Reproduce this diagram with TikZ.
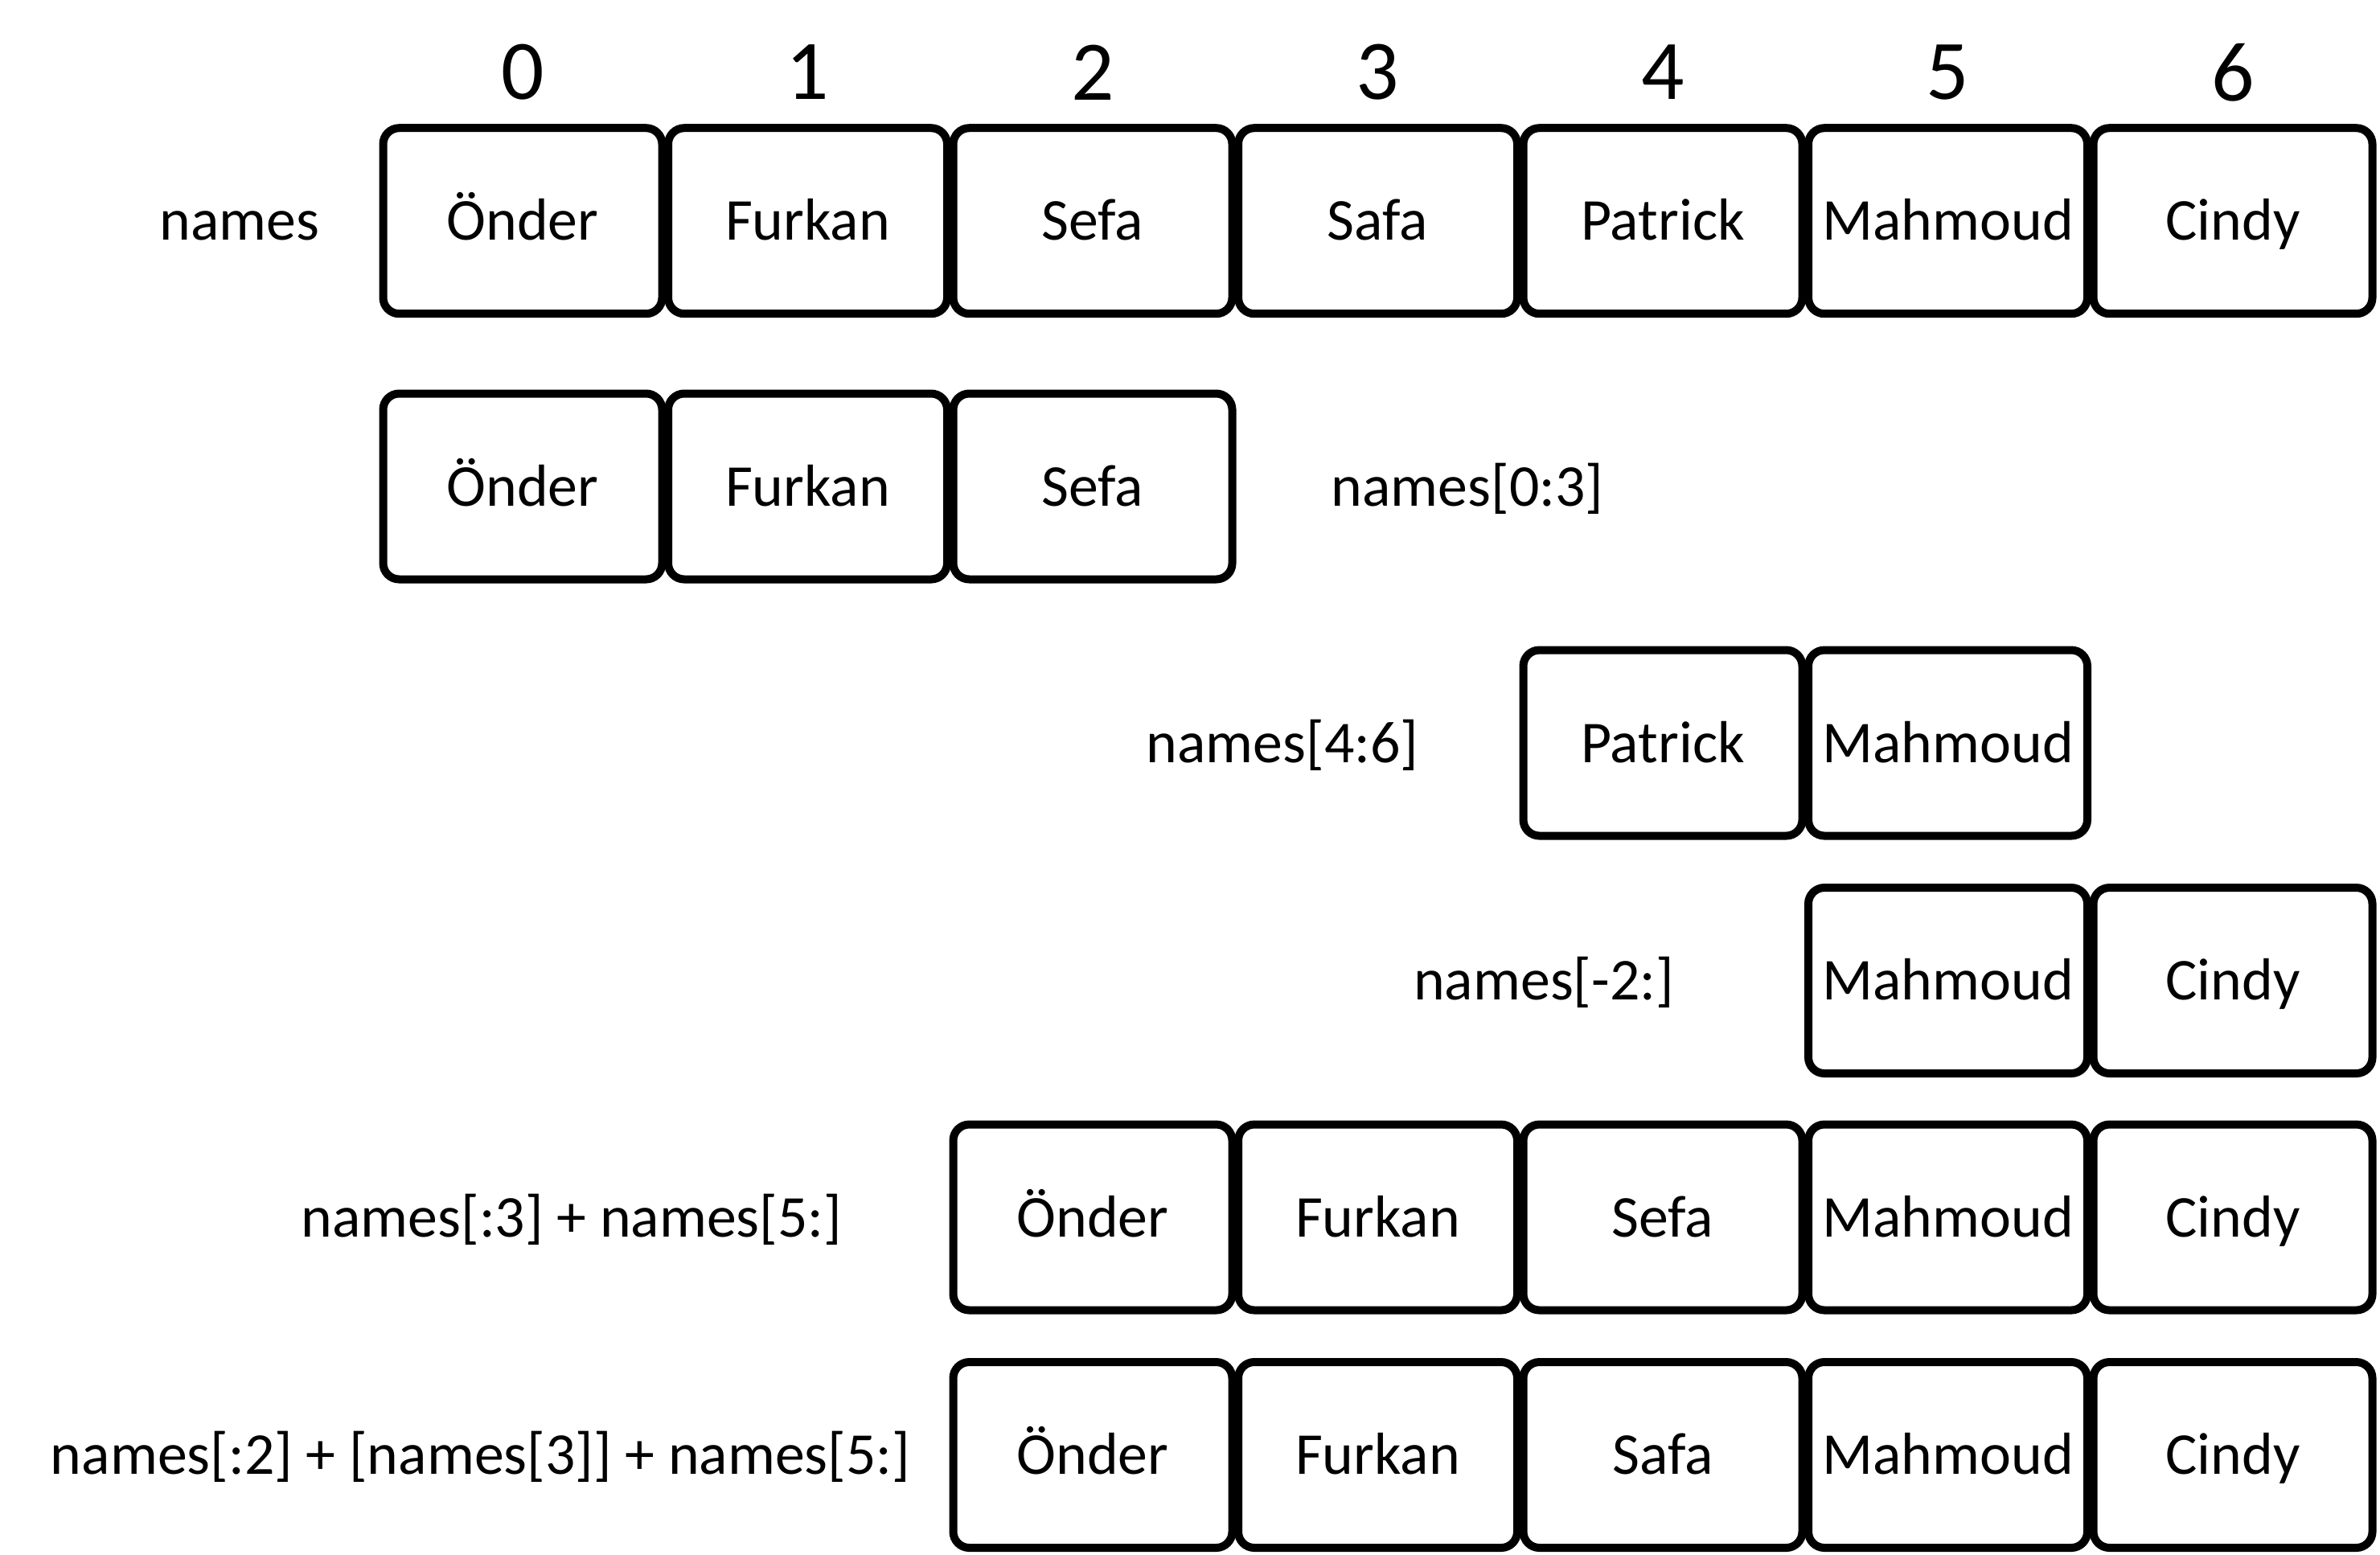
\documentclass[tikz,border=0pt]{standalone}
\usepackage{fontspec}
\setmainfont{Carlito}
\usepackage{tikz}

\begin{document}
\begin{tikzpicture}[x=1cm, y=1cm]
\tikzstyle{cell}=[draw, line width=0.1cm, rounded corners=0.2cm,
                  minimum width=3.47cm, minimum height=2.31cm, inner sep=0pt,
                  text height=0.48cm, text depth=0pt,
                  font=\fontsize{21}{25}\selectfont];
\tikzstyle{idx}=[inner sep=0pt, font=\fontsize{30}{36}\selectfont];
\tikzstyle{lbl}=[inner sep=0pt, text height=0.48cm, text depth=0pt,
                 font=\fontsize{21}{25}\selectfont];
\useasboundingbox (0,0) rectangle (29.6,-19.33);
% indices
\foreach \i in {0,...,6}
{\node[idx] (i\i) at (6.5+3.545*\i,-0.9) {\i};}
% names
\foreach \n [count=\i from 0] in {Önder,Furkan,Sefa,Safa,Patrick,Mahmoud,Cindy}
{\node[cell] (a\i) at (6.5+3.545*\i,-2.747) {\n};}
\node[lbl] (la) at (2.98,-2.747) {names};
% names[0:3]
\foreach \n [count=\i from 0] in {Önder,Furkan,Sefa}
{\node[cell] (b\i) at (6.5+3.545*\i,-6.05) {\n};}
\node[lbl] (lb) at (18.25,-6.05) {names[0:3]};
% names[4:6]
\foreach \n [count=\i from 4] in {Patrick,Mahmoud}
{\node[cell] (c\i) at (6.5+3.545*\i,-9.24) {\n};}
\node[lbl] (lc) at (15.95,-9.24) {names[4:6]};
% names[-2:]
\foreach \n [count=\i from 5] in {Mahmoud,Cindy}
{\node[cell] (d\i) at (6.5+3.545*\i,-12.195) {\n};}
\node[lbl] (ld) at (19.2,-12.195) {names[-2:]};
% names[:3] + names[5:]
\foreach \n [count=\i from 2] in {Önder,Furkan,Sefa,Mahmoud,Cindy}
{\node[cell] (e\i) at (6.5+3.545*\i,-15.14) {\n};}
\node[lbl] (le) at (7.11,-15.14) {names[:3] + names[5:]};
% names[:2] + [names[3]] + names[5:]
\foreach \n [count=\i from 2] in {Önder,Furkan,Safa,Mahmoud,Cindy}
{\node[cell] (f\i) at (6.5+3.545*\i,-18.095) {\n};}
\node[lbl] (lf) at (5.975,-18.095) {names[:2] + [names[3]] + names[5:]};
\end{tikzpicture}
\end{document}
